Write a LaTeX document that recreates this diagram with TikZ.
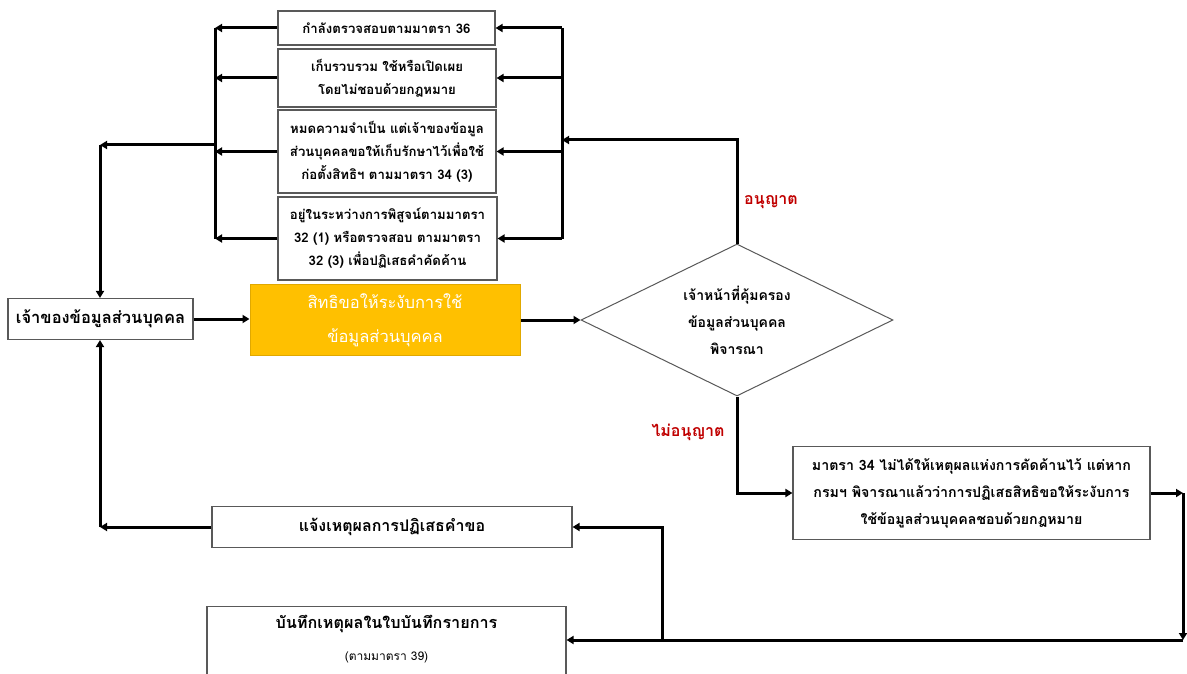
\documentclass[tikz,border=0pt]{standalone}
\usepackage{fontspec}
\newfontfamily\thai[Script=Thai]{Loma}
\usetikzlibrary{arrows.meta,shapes.geometric}
\definecolor{boxline}{HTML}{595959}
\definecolor{orng}{HTML}{FFC000}
\definecolor{orngline}{HTML}{E0A800}
\definecolor{redlbl}{HTML}{C00000}
\begin{document}
\begin{tikzpicture}[x=1pt,y=-1pt,
  box/.style={draw=boxline, line width=1.1pt, fill=white, inner sep=0pt, align=center,
    font=\thai\bfseries\fontsize{13.2}{23}\selectfont},
  conn/.style={line width=3pt, line join=miter},
  arr/.style={conn, -{Triangle[length=7pt,width=8pt]}},
  lbl/.style={text=redlbl, inner sep=0pt, font=\thai\bfseries\fontsize{16}{18}\selectfont},
  txt/.style={inner sep=0pt, align=center},
]
\useasboundingbox (0,0) rectangle (1187,674);
\clip (0,0) rectangle (1187,674);

% top stack
\node[box, minimum width=217pt, minimum height=34pt] (A) at (386.5,28) {กำลังตรวจสอบตามมาตรา 36};
\node[box, minimum width=218pt, minimum height=58pt] (B) at (387,78) {เก็บรวบรวม ใช้หรือเปิดเผย\\โดยไม่ชอบด้วยกฎหมาย};
\node[box, minimum width=218pt, minimum height=83pt] (C) at (387,151.5) {หมดความจำเป็น แต่เจ้าของข้อมูล\\ส่วนบุคคลขอให้เก็บรักษาไว้เพื่อใช้\\ก่อตั้งสิทธิฯ ตามมาตรา 34 (3)};
\node[box, minimum width=219pt, minimum height=83pt] (D) at (387.5,238.5) {อยู่ในระหว่างการพิสูจน์ตามมาตรา\\32 (1) หรือตรวจสอบ ตามมาตรา\\32 (3) เพื่อปฏิเสธคำคัดค้าน};

% middle row
\node[box, minimum width=185pt, minimum height=41pt, font=\thai\bfseries\fontsize{16.5}{20}\selectfont] (owner) at (100.5,319) {เจ้าของข้อมูลส่วนบุคคล};
\node[draw=orngline, fill=orng, line width=1pt, inner sep=0pt, align=center, text=white,
  minimum width=270pt, minimum height=71pt, font=\thai\fontsize{16.5}{34}\selectfont] (orange) at (385,320) {สิทธิขอให้ระงับการใช้\\ข้อมูลส่วนบุคคล};
\node[diamond, draw=boxline, line width=1pt, fill=white, inner sep=0pt,
  minimum width=312pt, minimum height=152pt] (dec) at (737,320) {};
\node[txt, font=\thai\bfseries\fontsize{14}{27}\selectfont] (decT) at (737,320) {เจ้าหน้าที่คุ้มครอง\\ข้อมูลส่วนบุคคล\\พิจารณา};

% labels
\node[lbl] (yes) at (771,202) {อนุญาต};
\node[lbl] (no) at (688,432) {ไม่อนุญาต};

% right box
\node[box, minimum width=357pt, minimum height=93pt, font=\thai\bfseries\fontsize{14.2}{27}\selectfont] (E) at (971.5,493) {มาตรา 34 ไม่ได้ให้เหตุผลแห่งการคัดค้านไว้ แต่หาก\\กรมฯ พิจารณาแล้วว่าการปฏิเสธสิทธิขอให้ระงับการ\\ใช้ข้อมูลส่วนบุคคลชอบด้วยกฎหมาย};

% bottom boxes
\node[box, minimum width=360pt, minimum height=41pt, font=\thai\bfseries\fontsize{16}{20}\selectfont] (F) at (392,527) {แจ้งเหตุผลการปฏิเสธคำขอ};
\node[box, minimum width=359pt, minimum height=80pt, anchor=north] (G) at (386.5,606) {};
\node[txt, font=\thai\bfseries\fontsize{16.2}{20}\selectfont] (Gt) at (386.5,624) {บันทึกเหตุผลในใบบันทึกรายการ};
\node[txt, font=\thai\fontsize{12}{14}\selectfont] (Gs) at (386.5,657) {(ตามมาตรา 39)};

% coordinates
\coordinate (busL) at (215,0);
\coordinate (busR) at (562,0);
\coordinate (Lj) at (215,145);
\coordinate (Lc) at (100,145);
\coordinate (Rc) at (737,140);
\coordinate (Dc) at (737,493);
\coordinate (Ec) at (1183,493);
\coordinate (Bc) at (1183,640);
\coordinate (Mj) at (662,640);
\coordinate (Mt) at (662,527);
\coordinate (Fl) at (100,527);

% left bus
\draw[arr] (A.west) -- (A.west -| busL);
\draw[arr] (B.west) -- (B.west -| busL);
\draw[arr] (C.west) -- (C.west -| busL);
\draw[arr] (D.west) -- (D.west -| busL);
\draw[conn] (A.west -| busL) -- (D.west -| busL);
\draw[arr] (Lj) -- (Lc);
\draw[arr] (Lc) -- (Lc |- owner.north);

% right bus
\draw[conn] (A.east -| busR) -- (D.east -| busR);
\draw[arr] (A.east -| busR) -- (A.east);
\draw[arr] (B.east -| busR) -- (B.east);
\draw[arr] (C.east -| busR) -- (C.east);
\draw[arr] (D.east -| busR) -- (D.east);
\draw[arr] (dec.north) -- (Rc) -- (Rc -| busR);

% main flow
\draw[arr] (owner.east) -- (owner.east -| orange.west);
\draw[arr] (orange.east) -- (dec.west);
\draw[arr] (dec.south) -- (Dc) -- (Dc -| E.west);
\draw[arr] (E.east) -- (Ec);
\draw[arr] (Ec) -- (Bc);
\draw[arr] (Bc) -- (Bc -| G.east);
\draw[arr] (Mj) -- (Mt) -- (Mt -| F.east);
\draw[arr] (F.west) -- (Fl);
\draw[arr] (Fl) -- (Fl |- owner.south);
\end{tikzpicture}
\end{document}
